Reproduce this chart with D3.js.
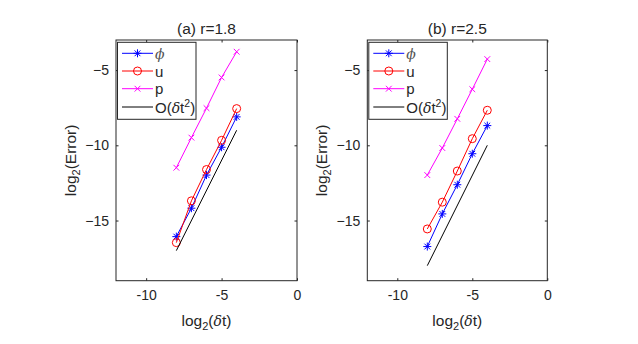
<!DOCTYPE html>
<html><head><meta charset="utf-8">
<script src="https://cdn.jsdelivr.net/npm/d3@7"></script>
<style>
body{margin:0;background:#fff;}
text{font-family:"Liberation Sans",Arial,sans-serif;fill:#262626;}
</style></head>
<body>
<svg id="fig" width="638" height="344"></svg>
<script>
const xVals = [-8, -7, -6, -5, -4];
const refX = [-8, -4];
const xTicks = [-10, -5, 0];
const yTicks = [-15, -10, -5];

const phiA = [-16.07, -14.18, -11.98, -10.13, -8.11];
const uA   = [-16.47, -13.69, -11.61, -9.67, -7.56];
const pA   = [-11.49, -9.49, -7.53, -5.49, -3.78];
const refA = [-17, -9];

const phiB = [-16.73, -14.56, -12.62, -10.56, -8.69];
const uB   = [-15.56, -13.78, -11.71, -9.56, -7.67];
const pB   = [-11.98, -10.18, -8.24, -6.27, -4.27];
const refB = [-18, -10];

const titles = ["(a) r=1.8", "(b) r=2.5"];
const seriesNames = ["phi", "u", "p", "ref"];
const colors = {phi: "#0000ff", u: "#ff0000", p: "#ff00ff", ref: "#000000"};
const markers = {phi: "star", u: "circle", p: "x", ref: null};

const svg = d3.select("#fig");
const AX = "#262626";

function markerPath(type, r) {
  const p = d3.path();
  if (type === "star") {
    p.moveTo(-r, 0); p.lineTo(r, 0);
    p.moveTo(0, -r); p.lineTo(0, r);
    const d = r * 0.72;
    p.moveTo(-d, -d); p.lineTo(d, d);
    p.moveTo(-d, d); p.lineTo(d, -d);
  } else if (type === "x") {
    const d = r * 0.8;
    p.moveTo(-d, -d); p.lineTo(d, d);
    p.moveTo(-d, d); p.lineTo(d, -d);
  } else if (type === "circle") {
    p.moveTo(r, 0); p.arc(0, 0, r, 0, 2 * Math.PI);
  }
  return p.toString();
}
const mSize = {star: 4, circle: 4, x: 3.6};

function drawPanel(left, right, top, bottom, data, title) {
  const x = d3.scaleLinear().domain([-12, 0]).range([left, right]);
  const y = d3.scaleLinear().domain([-19, -3]).range([bottom, top]);
  const g = svg.append("g");

  const tl = 2.5;
  const xAxB = d3.axisBottom(x).tickValues(xTicks).tickSizeInner(-tl).tickSizeOuter(0).tickPadding(9);
  const gxb = g.append("g").attr("transform", `translate(0,${bottom})`).call(xAxB);
  const xAxT = d3.axisTop(x).tickValues(xTicks).tickSizeInner(-tl).tickSizeOuter(0).tickFormat("");
  const gxt = g.append("g").attr("transform", `translate(0,${top})`).call(xAxT);
  const yAxL = d3.axisLeft(y).tickValues(yTicks).tickSizeInner(-tl).tickSizeOuter(0).tickPadding(7);
  const gyl = g.append("g").attr("transform", `translate(${left},0)`).call(yAxL);
  const yAxR = d3.axisRight(y).tickValues(yTicks).tickSizeInner(-tl).tickSizeOuter(0).tickFormat("");
  const gyr = g.append("g").attr("transform", `translate(${right},0)`).call(yAxR);
  [gxb, gxt, gyl, gyr].forEach(a => {
    a.select(".domain").remove();
    a.selectAll("line").attr("stroke", AX);
    a.selectAll("text").attr("fill", AX).style("font-size", "14px")
      .style("font-family", '"Liberation Sans",Arial,sans-serif');
  });
  gxb.selectAll("text").text(d => d === 0 ? "0" : d);

  g.append("rect").attr("x", left).attr("y", top)
    .attr("width", right - left).attr("height", bottom - top)
    .attr("fill", "none").attr("stroke", AX).attr("stroke-width", 1);

  const line = d3.line().x(d => x(d[0])).y(d => y(d[1]));
  const sets = [
    {k: "phi", pts: xVals.map((v, i) => [v, data.phi[i]])},
    {k: "u", pts: xVals.map((v, i) => [v, data.u[i]])},
    {k: "p", pts: xVals.map((v, i) => [v, data.p[i]])},
    {k: "ref", pts: refX.map((v, i) => [v, data.ref[i]])}
  ];
  sets.forEach(s => {
    g.append("path").attr("d", line(s.pts)).attr("fill", "none")
      .attr("stroke", colors[s.k]).attr("stroke-width", 1);
    if (markers[s.k]) {
      g.selectAll(null).data(s.pts).enter().append("path")
        .attr("transform", d => `translate(${x(d[0])},${y(d[1])})`)
        .attr("d", markerPath(markers[s.k], mSize[markers[s.k]]))
        .attr("fill", "none").attr("stroke", colors[s.k]).attr("stroke-width", 1);
    }
  });

  g.append("text").attr("x", (left + right) / 2).attr("y", 33.5)
    .attr("text-anchor", "middle").style("font-size", "15.5px").text(title);

  const xl = g.append("text").attr("x", (left + right) / 2).attr("y", 326)
    .attr("text-anchor", "middle").style("font-size", "15.5px");
  xl.append("tspan").text("log");
  xl.append("tspan").attr("dy", 4).style("font-size", "11px").text("2");
  xl.append("tspan").attr("dy", -4).text("(");
  xl.append("tspan").style("font-style", "italic").style("font-family", '"DejaVu Serif",serif').style("font-size", "14px").text("δ");
  xl.append("tspan").text("t)");

  const yl = g.append("text")
    .attr("transform", `translate(${left - 40},${(top + bottom) / 2}) rotate(-90)`)
    .attr("text-anchor", "middle").style("font-size", "15.5px");
  yl.append("tspan").text("log");
  yl.append("tspan").attr("dy", 4).style("font-size", "11px").text("2");
  yl.append("tspan").attr("dy", -4).text("(Error)");

  const lx = left + 1.5, ly = 42.3, lw = 78.5, lh = 77;
  const lg = g.append("g");
  lg.append("rect").attr("x", lx).attr("y", ly).attr("width", lw).attr("height", lh)
    .attr("fill", "#fff").attr("stroke", AX).attr("stroke-width", 1);
  const rowY = [53.3, 71, 88.7, 107];
  seriesNames.forEach((k, i) => {
    const yy = rowY[i];
    lg.append("line").attr("x1", lx + 4.5).attr("x2", lx + 35.5).attr("y1", yy).attr("y2", yy)
      .attr("stroke", colors[k]).attr("stroke-width", 1);
    if (markers[k]) {
      lg.append("path").attr("transform", `translate(${lx + 20},${yy})`)
        .attr("d", markerPath(markers[k], mSize[markers[k]]))
        .attr("fill", "none").attr("stroke", colors[k]).attr("stroke-width", 1);
    }
    const t = lg.append("text").attr("x", lx + 37.5).attr("y", yy + 5.5).style("font-size", "15px");
    if (k === "phi") {
      t.append("tspan").style("font-style", "italic").style("font-family", '"DejaVu Serif",serif')
        .style("font-size", "14px").attr("fill", "#555").text("ϕ");
    } else if (k === "u") t.text("u");
    else if (k === "p") t.text("p");
    else {
      t.append("tspan").text("O(");
      t.append("tspan").style("font-style", "italic").style("font-family", '"DejaVu Serif",serif').style("font-size", "14px").text("δ");
      t.append("tspan").text("t");
      t.append("tspan").attr("dy", -5.5).style("font-size", "10.5px").text("2");
      t.append("tspan").attr("dy", 5.5).text(")");
    }
  });
}

drawPanel(116, 297, 40, 280.7, {phi: phiA, u: uA, p: pA, ref: refA}, titles[0]);
drawPanel(367.3, 547.3, 40, 280.7, {phi: phiB, u: uB, p: pB, ref: refB}, titles[1]);
</script>
</body></html>
